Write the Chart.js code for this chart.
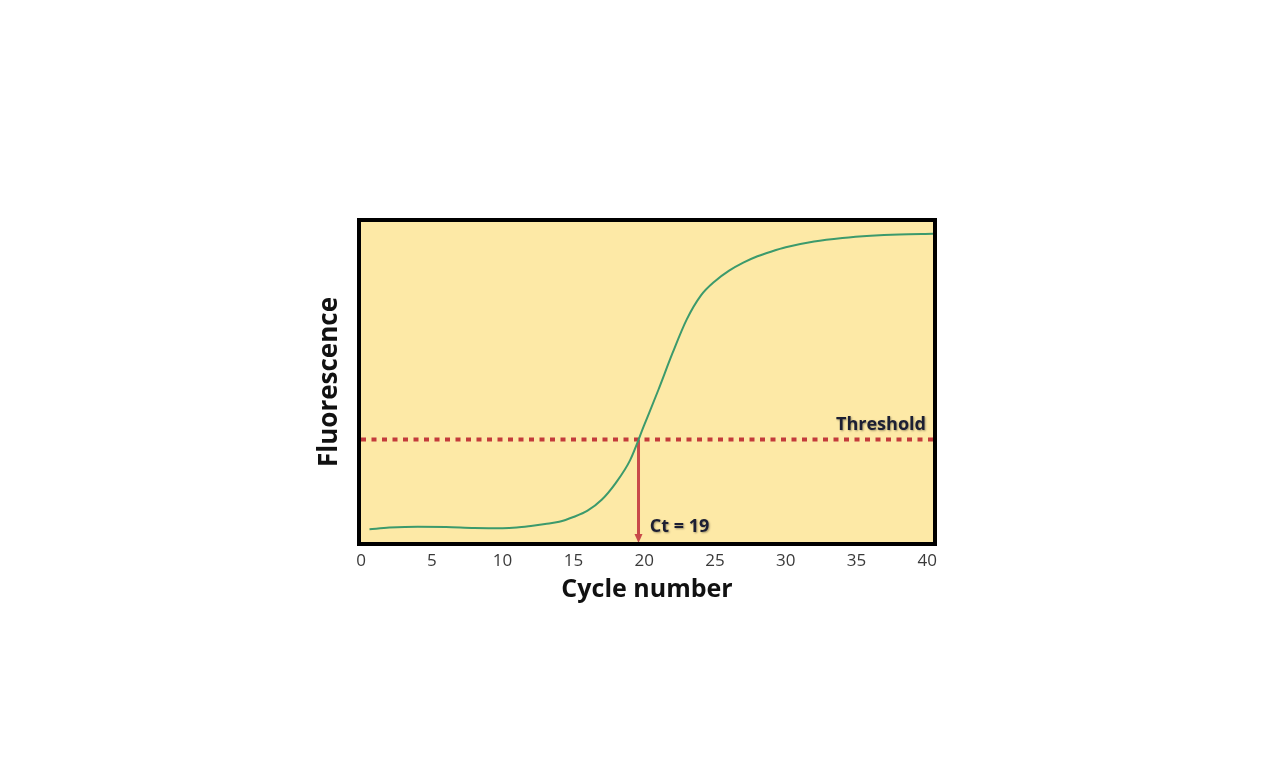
<!DOCTYPE html>
<html>
<head>
<meta charset="utf-8">
<script src="https://cdn.jsdelivr.net/npm/chart.js@4/dist/chart.umd.min.js"></script>
<style>
  html, body { margin: 0; padding: 0; background: #fff; }
  #wrap { width: 1284px; height: 782px; }
</style>
</head>
<body>
<div id="wrap"><canvas id="pcr" width="1284" height="782"></canvas></div>
<script>
// amplification curve
const cycles = [0.6, 2, 4, 6, 8, 10, 11, 12, 13, 14, 15, 16, 17, 18, 19, 20, 21, 22, 23, 24, 25, 26, 27, 28, 29, 30, 32, 34, 36, 38, 40.4];
const fluorescence = [4.0, 4.5, 4.8, 4.7, 4.4, 4.3, 4.5, 5.0, 5.6, 6.3, 7.8, 9.8, 13.2, 18.5, 25.5, 36.5, 47.5, 59.0, 69.5, 77.0, 81.5, 84.8, 87.3, 89.3, 90.8, 92.1, 93.9, 95.0, 95.7, 96.1, 96.3];
const xTicks = [0, 5, 10, 15, 20, 25, 30, 35, 40];
const thresholdValue = 32;
const ctCycle = 19.6;
const ctLabel = 'Ct = 19';
const thresholdLabel = 'Threshold';

const curvePoints = cycles.map((c, i) => ({ x: c, y: fluorescence[i] }));

// yellow background, black frame, arrow head and annotation texts
const framePlugin = {
  id: 'frame',
  beforeDatasetsDraw(chart) {
    const { ctx, chartArea: a } = chart;
    ctx.save();
    ctx.fillStyle = '#fde9a6';
    ctx.fillRect(a.left, a.top, a.right - a.left, a.bottom - a.top);
    ctx.restore();
  },
  afterDatasetsDraw(chart) {
    const { ctx, chartArea: a, scales } = chart;
    const x = scales.x.getPixelForValue(ctCycle);
    const yb = scales.y.getPixelForValue(0);
    ctx.save();
    // arrow head
    ctx.fillStyle = '#c84a4a';
    ctx.beginPath();
    ctx.moveTo(x - 4, yb - 8);
    ctx.lineTo(x + 4, yb - 8);
    ctx.lineTo(x, yb + 1);
    ctx.closePath();
    ctx.fill();

    // labels
    ctx.font = 'bold 18px "Open Sans"';
    ctx.fillStyle = '#1c1f33';
    ctx.shadowColor = 'rgba(0,0,0,0.35)';
    ctx.shadowOffsetX = 1;
    ctx.shadowOffsetY = 1;
    ctx.shadowBlur = 2;
    ctx.textBaseline = 'alphabetic';
    ctx.textAlign = 'right';
    ctx.fillText(thresholdLabel, scales.x.getPixelForValue(39.9), scales.y.getPixelForValue(35));
    ctx.textAlign = 'left';
    ctx.fillText(ctLabel, scales.x.getPixelForValue(20.4), scales.y.getPixelForValue(3.2));
    ctx.restore();

    // frame
    ctx.save();
    ctx.strokeStyle = '#000';
    ctx.lineWidth = 4;
    ctx.strokeRect(a.left - 2, a.top - 2, a.right - a.left + 4, a.bottom - a.top + 4);
    ctx.restore();
  }
};

const chart = new Chart(document.getElementById('pcr'), {
  type: 'line',
  data: {
    datasets: [
      {
        label: 'Amplification',
        data: curvePoints,
        borderColor: '#3c9a6c',
        borderWidth: 2,
        pointRadius: 0,
        cubicInterpolationMode: 'monotone',
        fill: false
      },
      {
        label: 'Threshold',
        data: [{ x: 0, y: thresholdValue }, { x: 40.4, y: thresholdValue }],
        borderColor: '#c33b3b',
        borderWidth: 4,
        borderDash: [5, 5.5],
        borderCapStyle: 'butt',
        pointRadius: 0,
        fill: false
      },
      {
        label: 'Ct',
        data: [{ x: ctCycle, y: thresholdValue }, { x: ctCycle, y: 1 }],
        borderColor: '#c84a4a',
        borderWidth: 3,
        pointRadius: 0,
        fill: false
      }
    ]
  },
  options: {
    responsive: false,
    animation: false,
    layout: { padding: { left: 310, right: 351, top: 222, bottom: 173 } },
    plugins: { legend: { display: false }, tooltip: { enabled: false } },
    scales: {
      x: {
        type: 'linear',
        min: 0,
        max: 40.4,
        afterBuildTicks: s => { s.ticks = xTicks.map(v => ({ value: v })); },
        afterFit: s => { s.height = 67; },
        grid: { display: false },
        border: { display: false },
        ticks: { color: '#3a3a3a', font: { family: 'Open Sans', size: 17 }, padding: 1 },
        title: { display: true, text: 'Cycle number', color: '#111', font: { family: 'Open Sans', size: 25, weight: 'bold' } }
      },
      y: {
        type: 'linear',
        min: 0,
        max: 100,
        afterFit: s => { s.width = 51; },
        grid: { display: false },
        border: { display: false },
        ticks: { display: false },
        title: { display: true, text: 'Fluorescence', color: '#111', font: { family: 'Open Sans', size: 26, weight: 'bold' } }
      }
    }
  },
  plugins: [framePlugin]
});
</script>
</body>
</html>
